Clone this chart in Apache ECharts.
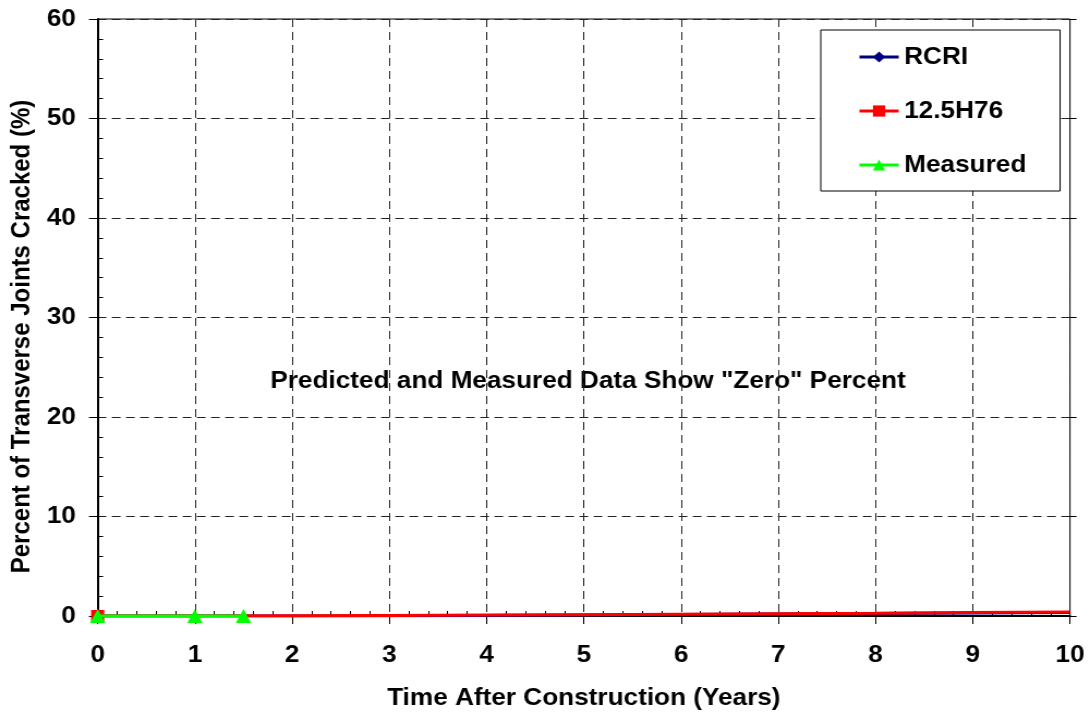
<!DOCTYPE html>
<html>
<head>
<meta charset="utf-8">
<script src="https://cdn.jsdelivr.net/npm/echarts@6/dist/echarts.min.js"></script>
<style>
html,body{margin:0;padding:0;background:#fff;overflow:hidden;width:1090px;height:715px}
#c{width:1000px;height:715px;transform:scaleX(1.09);transform-origin:0 0}
</style>
</head>
<body>
<div id="c"></div>
<script>
const years = [0, 1, 2, 3, 4, 5, 6, 7, 8, 9, 10];
const rcri = [0, 0, 0.01, 0.03, 0.06, 0.10, 0.14, 0.19, 0.24, 0.30, 0.36];
const h76 = [0, 0, 0.02, 0.05, 0.09, 0.13, 0.18, 0.23, 0.28, 0.34, 0.40];
const measYears = [0, 1, 1.5];
const measured = [0, 0, 0];
const xTicks = [0, 1, 2, 3, 4, 5, 6, 7, 8, 9, 10];
const yTicks = [0, 10, 20, 30, 40, 50, 60];

const FONT = '"Liberation Sans", Arial, sans-serif';
const chart = echarts.init(document.getElementById('c'));

function pts(xs, ys, sym) {
  return xs.map((x, i) => ({ value: [x, ys[i]], symbol: i === 0 ? sym : 'none' }));
}

const labelStyle = { fontFamily: FONT, fontWeight: 'bold', fontSize: 24, color: '#000' };
const dashed = { show: true, lineStyle: { color: '#222', type: [8, 5], width: 1 } };

chart.setOption({
  animation: false,
  backgroundColor: '#fff',
  textStyle: { fontFamily: FONT },
  grid: { left: 89, right: 18.35, top: 19, bottom: 98, show: true, borderColor: '#000', borderWidth: 1 },
  legend: {
    orient: 'vertical', left: 753, top: 30,
    padding: [14, 31, 13, 34],
    itemWidth: 36, itemHeight: 14, itemGap: 28,
    borderColor: '#000', borderWidth: 1, backgroundColor: '#fff',
    lineStyle: { width: 3 },
    textStyle: { fontFamily: FONT, fontWeight: 'bold', fontSize: 24, lineHeight: 26, color: '#000' },
    data: ['RCRI', '12.5H76', 'Measured']
  },
  xAxis: [{
    type: 'value', min: 0, max: 10, interval: 1,
    name: 'Time After Construction (Years)', nameLocation: 'middle', nameGap: 70,
    nameTextStyle: labelStyle,
    axisLine: { show: true, onZero: false, lineStyle: { color: '#000', width: 2 } },
    axisTick: { show: true, length: 8, lineStyle: { color: '#000' } },
    minorTick: { show: false },
    axisLabel: Object.assign({ margin: 27, formatter: v => xTicks.includes(v) ? String(v) : '' }, labelStyle),
    splitLine: dashed
  }, {
    type: 'value', min: 0, max: 10, interval: 1, position: 'bottom',
    axisLine: { show: false, onZero: false },
    axisTick: { show: false, inside: true },
    minorTick: { show: true, splitNumber: 5, length: 5, lineStyle: { color: '#000' } },
    axisLabel: { show: false }, splitLine: { show: false }
  }],
  yAxis: [{
    type: 'value', min: 0, max: 60, interval: 10,
    name: 'Percent of Transverse Joints Cracked (%)', nameLocation: 'middle', nameGap: 57,
    nameTextStyle: Object.assign({ padding: [0, 38, 0, 0] }, labelStyle),
    axisLine: { show: true, lineStyle: { color: '#000', width: 2 } },
    axisTick: { show: true, length: 8, lineStyle: { color: '#000' } },
    minorTick: { show: false },
    axisLabel: Object.assign({ margin: 20, formatter: v => yTicks.includes(v) ? String(v) : '' }, labelStyle),
    splitLine: dashed
  }, {
    type: 'value', min: 0, max: 60, interval: 10, position: 'left',
    axisLine: { show: false },
    axisTick: { show: false, inside: true },
    minorTick: { show: true, splitNumber: 5, length: 5, lineStyle: { color: '#000' } },
    axisLabel: { show: false }, splitLine: { show: false }
  }, {
    type: 'value', min: 0, max: 60, interval: 10, position: 'right',
    axisLine: { show: false },
    axisTick: { show: true, length: 6, lineStyle: { color: '#000' } },
    axisLabel: { show: false }, splitLine: { show: false }
  }],
  graphic: [{
    type: 'text',
    style: { text: 'Predicted and Measured Data Show "Zero" Percent', x: 248, y: 381,
      verticalAlign: 'middle', font: 'bold 24px ' + FONT, fill: '#000' }
  }],
  series: [
    { name: 'RCRI', type: 'line', data: pts(years, rcri, 'diamond'), symbol: 'diamond', symbolSize: 12,
      itemStyle: { color: '#000080' }, lineStyle: { color: '#000080', width: 3 }, z: 2 },
    { name: '12.5H76', type: 'line', data: pts(years, h76, 'rect'), symbol: 'rect', symbolSize: 12,
      itemStyle: { color: '#ff0000' }, lineStyle: { color: '#ff0000', width: 3 }, z: 3 },
    { name: 'Measured', type: 'line', data: measYears.map((x, i) => [x, measured[i]]), symbol: 'triangle', symbolSize: 14,
      itemStyle: { color: '#00ff00' }, lineStyle: { color: '#00ff00', width: 3 }, z: 4 }
  ]
});
</script>
</body>
</html>
